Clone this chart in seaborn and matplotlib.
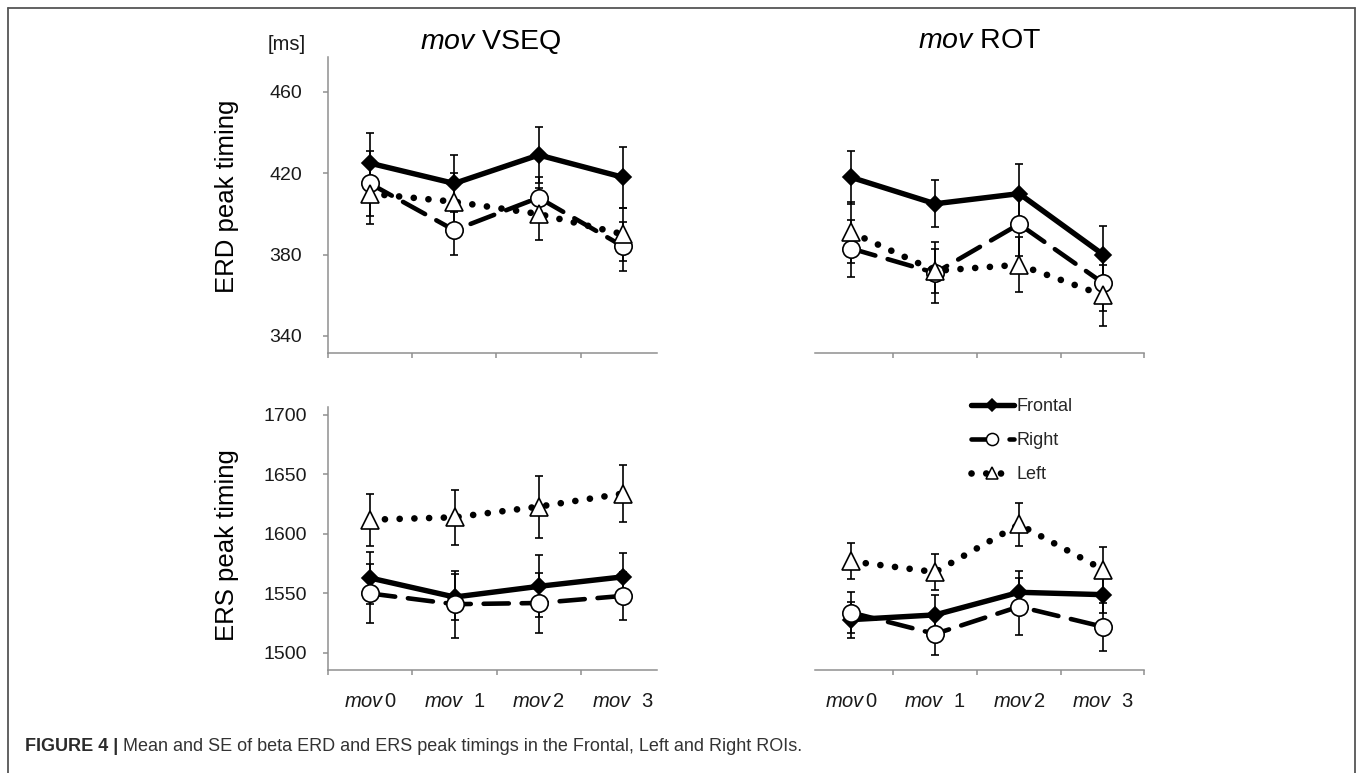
import matplotlib
matplotlib.use("Agg")
import numpy as np
import pandas as pd
import seaborn as sns
import matplotlib.pyplot as plt
from matplotlib.lines import Line2D

# ---------------- data ----------------
conditions = ["mov 0", "mov 1", "mov 2", "mov 3"]
tick_labels = [r"$\mathit{mov}\,$0", r"$\mathit{mov}$  1", r"$\mathit{mov}\,$2", r"$\mathit{mov}$  3"]
rois = ["Frontal", "Right", "Left"]

# ERD peak timing [ms] - mov VSEQ
erd_vseq_frontal = [425, 415, 429, 418]
erd_vseq_frontal_se = [15, 14, 14, 15]
erd_vseq_right = [415, 392, 408, 384]
erd_vseq_right_se = [16, 12, 10, 12]
erd_vseq_left = [410, 406, 400, 390]
erd_vseq_left_se = [15, 14, 13, 13]

# ERD peak timing [ms] - mov ROT
erd_rot_frontal = [418, 405, 410, 380]
erd_rot_frontal_se = [13, 11.5, 14.5, 14]
erd_rot_right = [383, 371, 395, 366]
erd_rot_right_se = [14, 15, 15.5, 13.5]
erd_rot_left = [391, 372, 375, 360]
erd_rot_left_se = [15, 11, 13.5, 15]

# ERS peak timing [ms] - mov VSEQ
ers_vseq_frontal = [1563, 1547, 1556, 1564]
ers_vseq_frontal_se = [22, 19, 26, 20]
ers_vseq_right = [1550, 1541, 1542, 1548]
ers_vseq_right_se = [25, 28, 25, 20]
ers_vseq_left = [1612, 1614, 1623, 1634]
ers_vseq_left_se = [22, 23, 26, 24]

# ERS peak timing [ms] - mov ROT
ers_rot_frontal = [1528, 1532, 1551, 1549]
ers_rot_frontal_se = [15, 17, 18, 15]
ers_rot_right = [1534, 1516, 1539, 1522]
ers_rot_right_se = [17, 18, 24, 20]
ers_rot_left = [1577, 1568, 1608, 1570]
ers_rot_left_se = [15, 15, 18, 19]

erd_ticks = [340, 380, 420, 460]
ers_ticks = [1500, 1550, 1600, 1650, 1700]

# ---------------- style ----------------
sns.set_style("white")
plt.rcParams["font.family"] = ["Liberation Sans", "DejaVu Sans"]
plt.rcParams["mathtext.fontset"] = "custom"
plt.rcParams["mathtext.it"] = "Liberation Sans:italic"
plt.rcParams["mathtext.rm"] = "Liberation Sans"

W, H = 1357, 773
fig = plt.figure(figsize=(W / 100, H / 100), dpi=100)
fig.patch.set_facecolor("white")

GREY = "#8f8f8f"
TXT = "#1a1a1a"

line_styles = {
    "Frontal": dict(marker="D", markersize=8.5, linewidth=3.9, linestyle="-",
                    markerfacecolor="black"),
    "Right": dict(marker="o", markersize=12.5, linewidth=3.3,
                  linestyle=(0, (5.5, 2.8)), markerfacecolor="white"),
    "Left": dict(marker="^", markersize=13, linewidth=4.8,
                 linestyle=(0, (0.01, 2.2)), markerfacecolor="white"),
}


def px_axes(x0, x1, ytop, ybot):
    return fig.add_axes([x0 / W, 1 - ybot / H, (x1 - x0) / W, (ybot - ytop) / H])


def build_df(frontal, right, left):
    rows = []
    for roi, vals in zip(rois, [frontal, right, left]):
        for i, v in enumerate(vals):
            rows.append({"roi": roi, "pos": i, "cond": conditions[i], "value": v})
    return pd.DataFrame(rows)


def draw_panel(ax, series, ses, ylim, yticks, left_panel, bottom_panel, xlim, minor, ypad):
    df = build_df(*series)
    for k, roi in enumerate(rois):
        sub = df[df["roi"] == roi]
        ax.errorbar(sub["pos"], sub["value"], yerr=ses[k], fmt="none",
                    ecolor="black", elinewidth=1.2, capsize=2.6, capthick=1.2,
                    zorder=2)
    for k, roi in enumerate(rois):
        sub = df[df["roi"] == roi]
        st = line_styles[roi]
        sns.lineplot(data=sub, x="pos", y="value", ax=ax, color="black",
                     estimator=None, errorbar=None, sort=False, legend=False,
                     markeredgecolor="black", markeredgewidth=1.2,
                     dash_capstyle="round", zorder=3 + k, **st)
    ax.set_xlim(*xlim)
    ax.set_ylim(*ylim)
    ax.set_xlabel("")
    ax.set_ylabel("")
    ax.set_xticks(range(len(conditions)))
    ax.set_xticks(minor, minor=True)
    ax.tick_params(axis="x", which="major", length=0, pad=16,
                   labelsize=14.5, labelcolor=TXT, labelbottom=bottom_panel)
    ax.tick_params(axis="x", which="minor", length=3.5, width=1.1, color=GREY,
                   direction="out", bottom=True)
    if bottom_panel:
        ax.set_xticklabels(tick_labels)
    for s in ["top", "right"]:
        ax.spines[s].set_visible(False)
    ax.spines["bottom"].set_color(GREY)
    ax.spines["bottom"].set_linewidth(1.1)
    if left_panel:
        ax.set_yticks(yticks)
        ax.spines["left"].set_color(GREY)
        ax.spines["left"].set_linewidth(1.1)
        ax.tick_params(axis="y", length=3.5, width=1.1, color=GREY, direction="out",
                       left=True, pad=ypad, labelsize=14, labelcolor=TXT)
    else:
        ax.spines["left"].set_visible(False)
        ax.tick_params(axis="y", left=False, labelleft=False)
    ax.set_facecolor("none")


erd_ylim = (331.6, 477.2)
ers_ylim = (1485.7, 1706.7)
left_xlim = (-0.5, 3.4)
right_xlim = (-0.43, 3.49)
left_minor = [-0.5, 0.5, 1.5, 2.5]
right_minor = [0.5, 1.5, 2.5, 3.49]

ax_tl = px_axes(327.5, 657, 57, 353)
ax_tr = px_axes(815, 1144.3, 57, 353)
ax_bl = px_axes(328, 657, 407, 670)
ax_br = px_axes(815, 1144.3, 407, 670)

draw_panel(ax_tl, (erd_vseq_frontal, erd_vseq_right, erd_vseq_left),
           (erd_vseq_frontal_se, erd_vseq_right_se, erd_vseq_left_se),
           erd_ylim, erd_ticks, True, False, left_xlim, left_minor, 15)
draw_panel(ax_tr, (erd_rot_frontal, erd_rot_right, erd_rot_left),
           (erd_rot_frontal_se, erd_rot_right_se, erd_rot_left_se),
           erd_ylim, erd_ticks, False, False, right_xlim, right_minor, 15)
draw_panel(ax_bl, (ers_vseq_frontal, ers_vseq_right, ers_vseq_left),
           (ers_vseq_frontal_se, ers_vseq_right_se, ers_vseq_left_se),
           ers_ylim, ers_ticks, True, True, left_xlim, left_minor, 11.5)
draw_panel(ax_br, (ers_rot_frontal, ers_rot_right, ers_rot_left),
           (ers_rot_frontal_se, ers_rot_right_se, ers_rot_left_se),
           ers_ylim, ers_ticks, False, True, right_xlim, right_minor, 11.5)

# titles
fig.text(490.5 / W, 1 - 48.5 / H, r"$\mathit{mov}$ VSEQ", ha="center", va="baseline",
         fontsize=20.5, color="black")
fig.text(980 / W, 1 - 48.5 / H, r"$\mathit{mov}$ ROT", ha="center", va="baseline",
         fontsize=20.5, color="black")
fig.text(286.7 / W, 1 - 45 / H, "[ms]", ha="center", va="center", fontsize=14.5, color=TXT)

# y labels
fig.text(226.7 / W, 1 - 196 / H, "ERD peak timing", rotation=90, ha="center",
         va="center", fontsize=18.5, color="black")
fig.text(226.7 / W, 1 - 545 / H, "ERS peak timing", rotation=90, ha="center",
         va="center", fontsize=18.5, color="black")

# legend
handles = []
for roi in rois:
    st = dict(line_styles[roi])
    ms = st.pop("markersize")
    handles.append(Line2D([], [], color="black", markeredgecolor="black",
                          markeredgewidth=1.1, markersize=ms * 0.7,
                          dash_capstyle="round", **st))
ax_br.legend(handles, rois, loc="upper left", bbox_to_anchor=(970.7 / W, 1 - 398 / H),
             bbox_transform=fig.transFigure, frameon=False, fontsize=13,
             handlelength=2.4, handletextpad=0.12, labelspacing=0.95,
             borderpad=0, borderaxespad=0)

# caption
cap = fig.text(25 / W, 1 - 746.7 / H, "FIGURE 4 |", ha="left", va="center",
               fontsize=13, fontweight="bold", color="#2b2b2b")
ax_tl.annotate(" Mean and SE of beta ERD and ERS peak timings in the Frontal, Left and Right ROIs.",
               xy=(1, 0.5), xycoords=cap, xytext=(0, 0), textcoords="offset points",
               ha="left", va="center", fontsize=13, color="#333333",
               annotation_clip=False)

# figure frame (left, top, right)
fx0, fx1 = 7.5 / W, 1354.5 / W
fy1 = 1 - 8 / H
fig.add_artist(Line2D([fx0, fx0], [0, fy1], transform=fig.transFigure, color="#555555", lw=1.3))
fig.add_artist(Line2D([fx0, fx1], [fy1, fy1], transform=fig.transFigure, color="#555555", lw=1.3))
fig.add_artist(Line2D([fx1, fx1], [0, fy1], transform=fig.transFigure, color="#555555", lw=1.3))

fig.savefig("out.png", dpi=100)
